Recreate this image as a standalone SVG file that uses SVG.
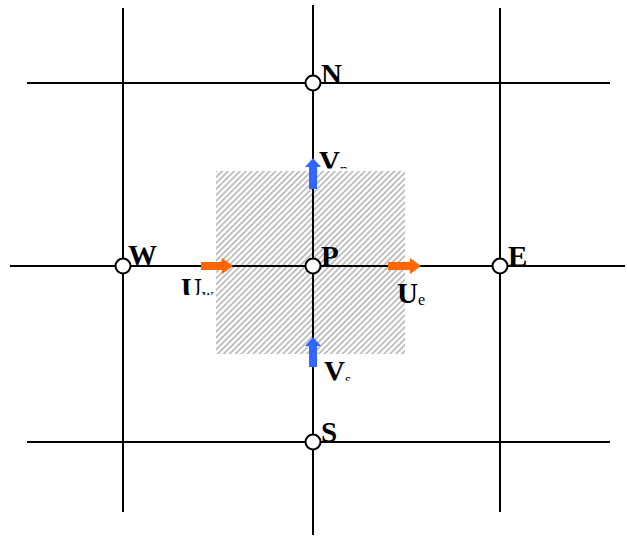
<svg xmlns="http://www.w3.org/2000/svg" width="627" height="536" viewBox="0 0 627 536">
<defs>
<style>
.grid{stroke:#000;stroke-width:2;fill:none}
.node{fill:#fff;stroke:#000;stroke-width:2}
.lbl{font-family:"Liberation Serif",serif;font-weight:bold;font-size:29px;fill:#000}
.sub{font-family:"Liberation Serif",serif;font-size:16px;fill:#000}
.orange{fill:#ff6600}
.blue{fill:#3366ff}
</style>
<pattern id="hatch" width="4.2" height="4.2" patternUnits="userSpaceOnUse" patternTransform="rotate(45)">
<rect width="4.2" height="4.2" fill="#fff"/>
<line x1="1" y1="0" x2="1" y2="4.2" stroke="#b4b4b4" stroke-width="1.6"/>
</pattern>
<clipPath id="clipVn"><rect x="300" y="140" width="100" height="28.5"/></clipPath>
<clipPath id="clipUw"><rect x="160" y="270" width="80" height="25"/></clipPath>
<clipPath id="clipVs"><rect x="300" y="350" width="100" height="30.5"/></clipPath>
</defs>
<rect id="cell" x="216" y="171" width="189" height="183" fill="url(#hatch)"/>
<g id="connectors">
<line class="grid" x1="123" y1="8" x2="123" y2="512"/>
<line class="grid" x1="313" y1="5" x2="313" y2="535"/>
<line class="grid" x1="500" y1="8" x2="500" y2="512"/>
<line class="grid" x1="27" y1="83" x2="610" y2="83"/>
<line class="grid" x1="10" y1="266" x2="625" y2="266"/>
<line class="grid" x1="27" y1="442" x2="610" y2="442"/>
</g>
<g id="arrow-uw"><polygon class="orange" points="201,262 222,262 222,258 233,266 222,274 222,270 201,270"/></g>
<g id="arrow-ue"><polygon class="orange" points="388,262 410,262 410,258 421,266 410,274 410,270 388,270"/></g>
<g id="arrow-vn"><polygon class="blue" points="309,189 317,189 317,167 321,167 313,158 305,167 309,167"/></g>
<g id="arrow-vs"><polygon class="blue" points="309,367 317,367 317,346 321,346 313,337 305,346 309,346"/></g>
<g id="N"><circle class="node" cx="313" cy="83" r="7.5"/><text class="lbl" x="321" y="84">N</text></g>
<g id="W"><circle class="node" cx="123" cy="266" r="7.5"/><text class="lbl" x="128" y="265">W</text></g>
<g id="P"><circle class="node" cx="313" cy="266" r="7.5"/><text class="lbl" x="321" y="266">P</text></g>
<g id="E"><circle class="node" cx="500" cy="266" r="7.5"/><text class="lbl" x="508" y="266">E</text></g>
<g id="S"><circle class="node" cx="313" cy="442" r="7.5"/><text class="lbl" x="321" y="442">S</text></g>
<g id="Ue"><text x="397" y="303"><tspan class="lbl">U</tspan><tspan class="sub" dy="2">e</tspan></text></g>
<g id="Uw" clip-path="url(#clipUw)"><text x="181" y="298"><tspan class="lbl">U</tspan><tspan class="sub" dy="2">w</tspan></text></g>
<g id="Vn" clip-path="url(#clipVn)"><text x="319" y="171"><tspan class="lbl">V</tspan><tspan class="sub" dy="4">n</tspan></text></g>
<g id="Vs" clip-path="url(#clipVs)"><text x="324" y="380.5"><tspan class="lbl">V</tspan><tspan class="sub" dy="4">s</tspan></text></g>
</svg>
